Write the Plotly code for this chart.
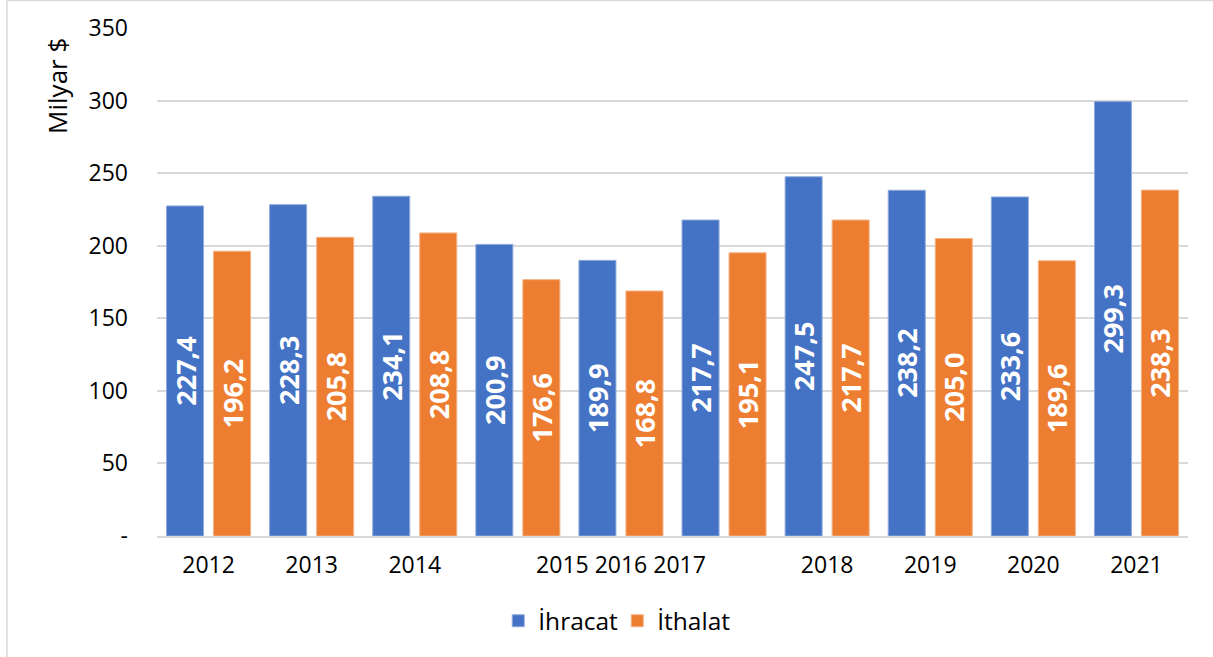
import plotly.graph_objects as go

years = ["2012", "2013", "2014", "2015", "2016", "2017", "2018", "2019", "2020", "2021"]
x_tick_labels = ["2012", "2013", "2014", "", "2015 2016 2017", "", "2018", "2019", "2020", "2021"]
ihracat = [227.4, 228.3, 234.1, 200.9, 189.9, 217.7, 247.5, 238.2, 233.6, 299.3]
ithalat = [196.2, 205.8, 208.8, 176.6, 168.8, 195.1, 217.7, 205.0, 189.6, 238.3]
y_tick_vals = [0, 50, 100, 150, 200, 250, 300, 350]
y_tick_labels = ["-", "50", "100", "150", "200", "250", "300", "350"]

FONT = "Open Sans"
TICK_SIZE = 23
LABEL_SIZE = 27

# bar geometry in category units (one category = 1)
BAR_W = 0.359
INNER_GAP = 0.097

def fmt(v):
    return f"{v:.1f}".replace(".", ",")

fig = go.Figure()
fig.add_trace(go.Bar(
    x=years, y=ihracat, name="İhracat",
    width=BAR_W, offset=-(BAR_W + INNER_GAP / 2),
    marker=dict(color="#4472C4", line=dict(color="#8faadc", width=1)),
    text=[fmt(v) for v in ihracat], textposition="inside", insidetextanchor="middle",
    textangle=-90, textfont=dict(family=FONT, size=LABEL_SIZE, color="white", weight="bold"),
))
fig.add_trace(go.Bar(
    x=years, y=ithalat, name="İthalat",
    width=BAR_W, offset=INNER_GAP / 2,
    marker=dict(color="#ED7D31", line=dict(color="#f4b183", width=1)),
    text=[fmt(v) for v in ithalat], textposition="inside", insidetextanchor="middle",
    textangle=-90, textfont=dict(family=FONT, size=LABEL_SIZE, color="white", weight="bold"),
))

fig.update_layout(
    width=1213, height=657,
    margin=dict(l=157, r=25, t=28, b=121),
    paper_bgcolor="white", plot_bgcolor="white",
    barmode="group",
    uniformtext=dict(minsize=LABEL_SIZE, mode="show"),
    font=dict(family=FONT, size=TICK_SIZE, color="#000000"),
    showlegend=True,
    legend=dict(orientation="h", x=0.331, y=-0.167, xanchor="left", yanchor="middle",
                font=dict(family=FONT, size=24.5, color="#000000"),
                entrywidth=74, itemwidth=30, traceorder="normal"),
    xaxis=dict(type="category", tickvals=years, ticktext=x_tick_labels,
               range=[-0.5, len(years) - 0.5],
               showgrid=False, showline=True, linecolor="#d9d9d9", linewidth=1.5,
               ticks="", ticklabelstandoff=8, tickfont=dict(family=FONT, size=TICK_SIZE)),
    yaxis=dict(range=[0, 350], tickvals=y_tick_vals, ticktext=y_tick_labels,
               showgrid=True, gridcolor="#d9d9d9", gridwidth=1.5, zeroline=False,
               showline=False, ticks="", ticklabelstandoff=28,
               tickfont=dict(family=FONT, size=TICK_SIZE)),
    annotations=[dict(text="Milyar $", xref="paper", yref="paper", x=-0.097, y=0.886,
                      xanchor="center", yanchor="middle", textangle=-90, showarrow=False,
                      font=dict(family=FONT, size=26, color="#000000"))],
    shapes=[dict(type="rect", xref="paper", yref="paper", x0=-0.1455, x1=1.2, y0=-0.6, y1=1.054,
                 line=dict(color="#d9d9d9", width=1.5), fillcolor="rgba(0,0,0,0)", layer="below")],
)

fig.write_html("out.html", config={"displayModeBar": False},
               post_script="document.body.style.margin='0';")
